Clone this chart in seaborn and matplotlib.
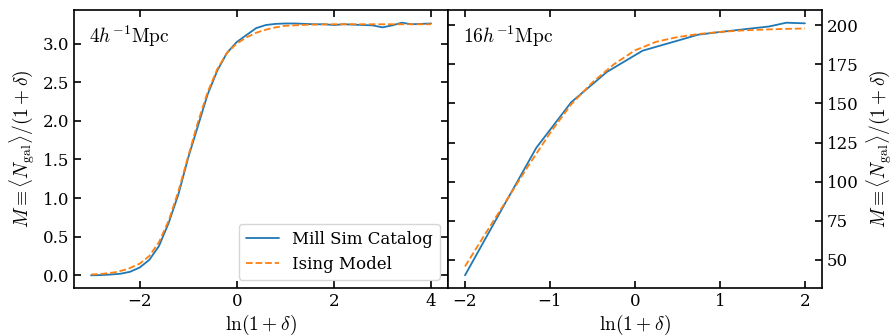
import matplotlib
matplotlib.use("Agg")
import matplotlib.pyplot as plt
import seaborn as sns
from matplotlib.ticker import MultipleLocator

# 4 h^-1 Mpc panel
x_mill_4 = [-3.0, -2.8, -2.6, -2.4, -2.2, -2.0, -1.8, -1.6, -1.4, -1.2,
            -1.0, -0.8, -0.6, -0.4, -0.2, 0.0, 0.2, 0.4, 0.6, 0.8,
            1.0, 1.2, 1.4, 1.6, 1.8, 2.0, 2.2, 2.4, 2.6, 2.8,
            3.0, 3.2, 3.4, 3.6, 3.8, 4.0]
m_mill_4 = [0.0, 0.003, 0.01, 0.02, 0.045, 0.1, 0.2, 0.38, 0.68, 1.05,
            1.52, 1.93, 2.34, 2.65, 2.88, 3.02, 3.11, 3.2, 3.24, 3.255,
            3.26, 3.26, 3.255, 3.25, 3.25, 3.24, 3.25, 3.245, 3.24, 3.235,
            3.21, 3.235, 3.27, 3.25, 3.255, 3.26]
x_ising_4 = [-3.0, -2.75, -2.5, -2.25, -2.0, -1.8, -1.6, -1.4, -1.2, -1.0,
             -0.8, -0.6, -0.4, -0.2, 0.0, 0.2, 0.4, 0.6, 0.8, 1.0,
             1.5, 2.0, 2.5, 3.0, 3.5, 4.0]
m_ising_4 = [0.01, 0.02, 0.04, 0.08, 0.15, 0.25, 0.43, 0.71, 1.09, 1.54,
             1.98, 2.37, 2.67, 2.88, 3.0, 3.08, 3.14, 3.18, 3.21, 3.23,
             3.245, 3.25, 3.25, 3.25, 3.25, 3.25]

# 16 h^-1 Mpc panel
x_mill_16 = [-2.0, -1.58, -1.16, -0.75, -0.33, 0.09, 0.52, 0.74, 0.99, 1.58, 1.78, 2.0]
m_mill_16 = [40.0, 81.0, 121.7, 150.8, 170.2, 183.8, 190.5, 194.0, 195.7, 199.3, 201.7, 201.3]
x_ising_16 = [-2.0, -1.75, -1.5, -1.25, -1.0, -0.75, -0.5, -0.25, 0.0, 0.25,
              0.5, 0.75, 1.0, 1.25, 1.5, 1.75, 2.0]
m_ising_16 = [45.7, 67.5, 89.0, 110.5, 131.0, 149.5, 163.5, 175.0, 184.0, 189.5,
              192.5, 194.5, 195.8, 196.7, 197.3, 197.7, 198.0]

sns.set_style("ticks")
plt.rcParams["font.family"] = "serif"
plt.rcParams["font.serif"] = ["DejaVu Serif"]
plt.rcParams["mathtext.fontset"] = "cm"
for key in ["text.color", "axes.labelcolor", "xtick.color", "ytick.color", "axes.edgecolor"]:
    plt.rcParams[key] = "black"
plt.rcParams["axes.linewidth"] = 1.2

fig = plt.figure(figsize=(8.94, 3.36), dpi=100)
ax1 = fig.add_axes([0.0828, 0.143, 0.4183, 0.827])
ax2 = fig.add_axes([0.5011, 0.143, 0.4183, 0.827])

ylab = r"$M \equiv \langle N_{\rm gal}\rangle/(1+\delta)$"

sns.lineplot(x=x_mill_4, y=m_mill_4, ax=ax1, color="C0", lw=1.3,
             label="Mill Sim Catalog", sort=False)
sns.lineplot(x=x_ising_4, y=m_ising_4, ax=ax1, color="C1", lw=1.3,
             linestyle="--", label="Ising Model")
ax1.legend(loc="lower right", fontsize=12)
ax1.text(0.04, 0.88, r"$4h^{-1}{\rm Mpc}$", transform=ax1.transAxes, fontsize=14)
ax1.set_xlabel(r"$\ln(1+\delta)$", fontsize=14, labelpad=2)
ax1.set_ylabel(ylab, fontsize=14)
ax1.set_xticks([-2, 0, 2, 4])

sns.lineplot(x=x_mill_16, y=m_mill_16, ax=ax2, color="C0", lw=1.3, sort=False)
sns.lineplot(x=x_ising_16, y=m_ising_16, ax=ax2, color="C1", lw=1.3, linestyle="--")
ax2.text(0.04, 0.88, r"$16h^{-1}{\rm Mpc}$", transform=ax2.transAxes, fontsize=14)
ax2.set_xlabel(r"$\ln(1+\delta)$", fontsize=14, labelpad=2)
ax2.yaxis.tick_right()
ax2.yaxis.set_label_position("right")
ax2.set_ylabel(ylab, fontsize=14)
ax2.set_xticks([-2, -1, 0, 1, 2])
ax2.yaxis.set_major_locator(MultipleLocator(25))

for ax in (ax1, ax2):
    ax.tick_params(direction="in", top=True, right=True, left=True,
                   length=5, width=1.2, labelsize=12)

fig.savefig("out.png", dpi=100)
